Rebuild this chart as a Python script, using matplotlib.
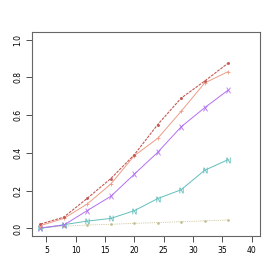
import matplotlib.pyplot as plt

# sample sizes on the x axis
x = [4, 8, 12, 16, 20, 24, 28, 32, 36]

# one series per curve
dot_vals = [0.023, 0.060, 0.160, 0.264, 0.390, 0.550, 0.690, 0.780, 0.875]
plus_vals = [0.015, 0.053, 0.130, 0.235, 0.385, 0.477, 0.620, 0.770, 0.830]
x_vals = [0.003, 0.018, 0.095, 0.170, 0.287, 0.403, 0.538, 0.639, 0.732]
n_vals = [0.000, 0.020, 0.039, 0.053, 0.094, 0.158, 0.205, 0.308, 0.364]
low_vals = [0.003, 0.012, 0.018, 0.022, 0.027, 0.031, 0.036, 0.040, 0.045]

xticks = [5, 10, 15, 20, 25, 30, 35, 40]
yticks = [0.0, 0.2, 0.4, 0.6, 0.8, 1.0]

fig = plt.figure(figsize=(2.77, 2.77), dpi=100)
ax = fig.add_axes([0.1155, 0.148, 0.823, 0.7365])

ax.plot(x, low_vals, color="#C2BC8A", lw=0.6, ls=(0, (1, 1.2)),
        marker="o", ms=0.9, mec="#C2BC8A")
ax.plot(x, n_vals, color="#62BFBC", lw=0.7, marker=r"$\mathsf{N}$",
        ms=4, mew=0.1)
ax.plot(x, x_vals, color="#B46FF2", lw=0.7, marker=r"$\mathsf{X}$",
        ms=4, mew=0.1)
ax.plot(x, plus_vals, color="#EE9C86", lw=0.7, marker="+", ms=3.5,
        mew=0.6)
ax.plot(x, dot_vals, color="#C25A56", lw=0.8, ls=(0, (2.5, 1)),
        marker="o", ms=1.1)

ax.set_xlim(2.56, 41.44)
ax.set_ylim(-0.04, 1.04)
ax.set_xticks(xticks)
ax.set_yticks(yticks)
ax.set_xticklabels([str(t) for t in xticks])
ax.set_yticklabels([f"{t:.1f}" for t in yticks], rotation=90, va="center")
ax.tick_params(labelsize=5.5, length=4, width=0.6, color="#333333",
               pad=3)
for s in ax.spines.values():
    s.set_color("#666666")
    s.set_linewidth(0.8)

fig.savefig("out.png", dpi=100)
